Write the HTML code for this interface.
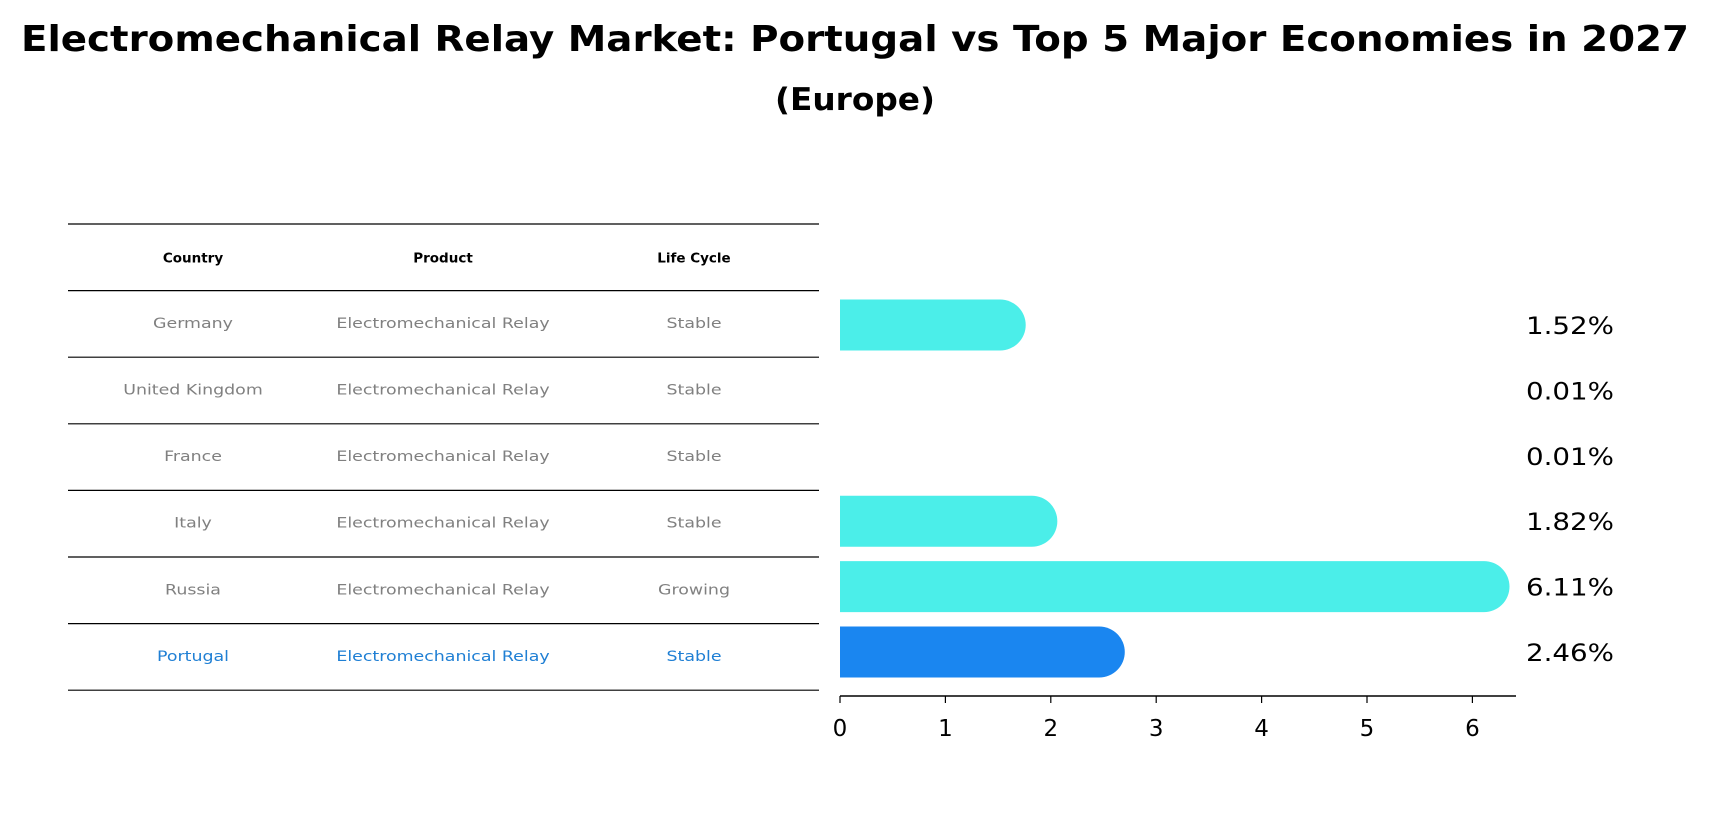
<!DOCTYPE html>
<html><head><meta charset="utf-8"><style>
body{margin:0;background:#fff;}
svg text{font-family:"DejaVu Sans","Liberation Sans",sans-serif;}
</style></head><body>
<svg width="1710" height="823" xmlns="http://www.w3.org/2000/svg">
<text x="855" y="51" text-anchor="middle" font-size="36" font-weight="bold" textLength="1668" lengthAdjust="spacingAndGlyphs">Electromechanical Relay Market: Portugal vs Top 5 Major Economies in 2027</text>
<text x="855" y="110" text-anchor="middle" font-size="31" font-weight="bold" textLength="160" lengthAdjust="spacingAndGlyphs">(Europe)</text>
<g id="table"></g>
<g id="bars"></g>
</svg>
<script>
const countries=["Germany","United Kingdom","France","Italy","Russia","Portugal"];
const products=["Electromechanical Relay","Electromechanical Relay","Electromechanical Relay","Electromechanical Relay","Electromechanical Relay","Electromechanical Relay"];
const lifeCycles=["Stable","Stable","Stable","Stable","Growing","Stable"];
const values=[1.52,0.01,0.01,1.82,6.11,2.46];
const valueLabels=["1.52%","0.01%","0.01%","1.82%","6.11%","2.46%"];
const xTicks=[0,1,2,3,4,5,6];
const NS="http://www.w3.org/2000/svg";
function mk(t,a,p){const e=document.createElementNS(NS,t);for(const k in a)e.setAttribute(k,a[k]);p.appendChild(e);return e;}
const tbl=document.getElementById('table'), bars=document.getElementById('bars');
const rowTop=224, rowH=66.6, colX=[193,443,694];
const x=v=>840+v*105.4;
const yc=i=>325+i*65.4;
for(let i=0;i<=7;i++){const l=mk('line',{x1:68,x2:819,y1:rowTop+i*rowH,y2:rowTop+i*rowH,stroke:'#000','stroke-width':1.2},tbl);

}
["Country","Product","Life Cycle"].forEach((h,j)=>{const t=mk('text',{x:colX[j],y:rowTop+rowH/2+5,'text-anchor':'middle','font-size':13.5,'font-weight':'bold'},tbl);t.textContent=h;

});
countries.forEach((c,i)=>{const col=c==="Portugal"?'#1f7fd4':'#808080';
[c,products[i],lifeCycles[i]].forEach((s,j)=>{const t=mk('text',{x:colX[j],y:rowTop+(i+1.5)*rowH+4,'text-anchor':'middle','font-size':14.5,fill:col},tbl);t.textContent=s;
t.setAttribute('transform',`translate(${colX[j]},0) scale(1.2,1) translate(${-colX[j]},0)`);

});});
const bh=51;
values.forEach((v,i)=>{const col=countries[i]==="Portugal"?'#1a86f0':'#4beee9';
if(v>0.05){const p=mk('path',{d:`M${x(0)},${yc(i)-bh/2} H${x(v)} A${bh/2},${bh/2} 0 0 1 ${x(v)},${yc(i)+bh/2} H${x(0)} Z`,fill:col},bars);

}
const t=mk('text',{x:1526,y:yc(i)+9,'font-size':24,textLength:88,lengthAdjust:'spacingAndGlyphs'},bars);t.textContent=valueLabels[i];

});
const ax=mk('line',{x1:x(0),x2:1516,y1:696,y2:696,stroke:'#000','stroke-width':1.5},bars);


xTicks.forEach(v=>{const tk=mk('line',{x1:x(v),x2:x(v),y1:696,y2:703,stroke:'#000','stroke-width':1.2},bars);


const t=mk('text',{x:x(v),y:736,'text-anchor':'middle','font-size':23},bars);t.textContent=v;

});
</script>
</body></html>
